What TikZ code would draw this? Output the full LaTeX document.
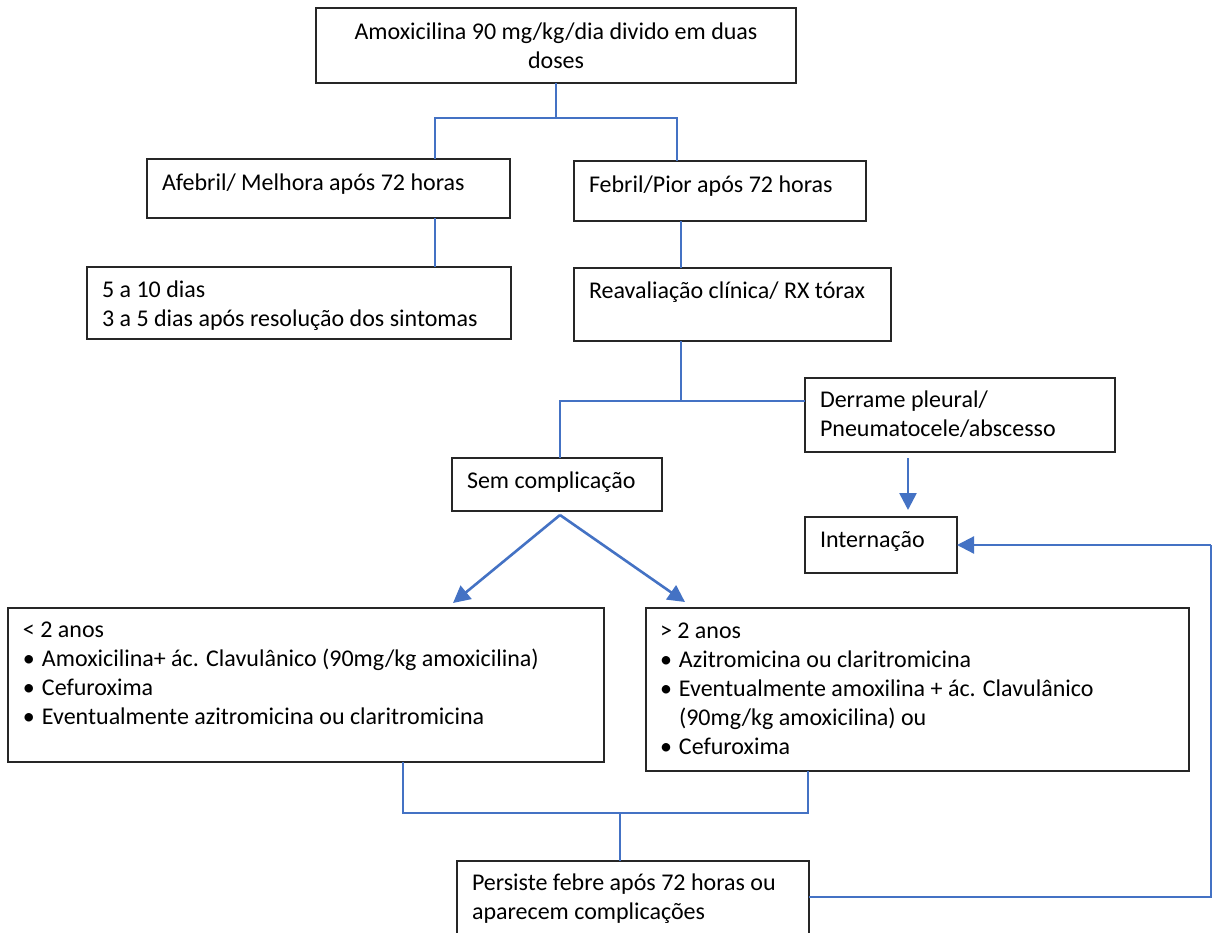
\documentclass[tikz,border=0pt]{standalone}
\usepackage{fontspec}
\setmainfont{Carlito}
\usetikzlibrary{arrows.meta}
\definecolor{cblue}{HTML}{4472C4}
\newcommand\bitem{\makebox[19pt][l]{\textbullet}}
\begin{document}
\begin{tikzpicture}[x=1pt,y=-1pt,
  font=\fontsize{24}{29}\selectfont,
  box/.style={draw=black!85, line width=1.1pt, anchor=north west, inner sep=0pt, outer sep=0pt},
  txt/.style={anchor=base west, inner sep=0pt, outer sep=0pt},
  conn/.style={draw=cblue, line width=1.3pt},
  arr/.style={draw=cblue, line width=2.6pt, -{Triangle[length=17pt,width=17pt]}},
  arrthin/.style={draw=cblue, line width=2.2pt, -{Triangle[length=17pt,width=17pt]}}]
\useasboundingbox[fill=white] (0,0) rectangle (1215,932);

% boxes
\node[box, minimum width=480pt, minimum height=75pt] (top) at (316,8) {};
\node[box, minimum width=363pt, minimum height=59pt] (afe) at (147,159) {};
\node[box, minimum width=292pt, minimum height=60pt] (feb) at (574,161) {};
\node[box, minimum width=424pt, minimum height=72pt] (dias) at (87,267) {};
\node[box, minimum width=317pt, minimum height=73pt] (rea) at (574,268) {};
\node[box, minimum width=310pt, minimum height=74pt] (der) at (805,378) {};
\node[box, minimum width=210pt, minimum height=53pt] (sem) at (452,458) {};
\node[box, minimum width=152pt, minimum height=56pt] (int) at (805,517) {};
\node[box, minimum width=596pt, minimum height=154pt] (lt2) at (8,608) {};
\node[box, minimum width=543pt, minimum height=163pt] (gt2) at (646,608) {};
\node[box, minimum width=352pt, minimum height=80pt] (per) at (457,861) {};

% texts
\node[txt, anchor=base] (topt) at (556,39) {\begin{tabular}[t]{@{}c@{}}Amoxicilina 90 mg/kg/dia divido em duas\\doses\end{tabular}};
\node[txt] (afet) at (162,190) {Afebril/ Melhora após 72 horas};
\node[txt] (febt) at (589,192) {Febril/Pior após 72 horas};
\node[txt] (diast) at (102,297) {\begin{tabular}[t]{@{}l@{}}5 a 10 dias\\3 a 5 dias após resolução dos sintomas\end{tabular}};
\node[txt] (reat) at (589,298) {Reavaliação clínica/ RX tórax};
\node[txt] (dert) at (820,407) {\begin{tabular}[t]{@{}l@{}}Derrame pleural/\\Pneumatocele/abscesso\end{tabular}};
\node[txt] (semt) at (467,488) {Sem complicação};
\node[txt] (intt) at (820,547) {Internação};
\node[txt] (lt2t) at (23,637) {\begin{tabular}[t]{@{}l@{}}< 2 anos\\
  \bitem Amoxicilina+ ác. Clavulânico (90mg/kg amoxicilina)\\
  \bitem Cefuroxima\\
  \bitem Eventualmente azitromicina ou claritromicina\end{tabular}};
\node[txt] (gt2t) at (660,638) {\begin{tabular}[t]{@{}l@{}}> 2 anos\\
  \bitem Azitromicina ou claritromicina\\
  \bitem Eventualmente amoxilina + ác. Clavulânico\\
  \hspace*{19pt}(90mg/kg amoxicilina) ou\\
  \bitem Cefuroxima\end{tabular}};
\node[txt] (pert) at (472,890) {\begin{tabular}[t]{@{}l@{}}Persiste febre após 72 horas ou\\aparecem complicações\end{tabular}};

% junction coordinates
\coordinate (ja) at (435,118);
\coordinate (jb) at (677,118);
\coordinate (jc) at (681,401);
\coordinate (jd) at (560,401);
\coordinate (je) at (908,0);
\coordinate (js) at (560,515);
\coordinate (tl) at (453,603);
\coordinate (tr) at (685,602);
\coordinate (jf) at (1211,0);
\coordinate (jg) at (403,813);
\coordinate (jh) at (808,813);
\coordinate (ji) at (620,813);
\coordinate (jp) at (0,897);

% connectors
\draw[conn] (top.south) -- (top.south |- ja);
\draw[conn] (ja |- afe.north) -- (ja) -- (jb) -- (jb |- feb.north);
\draw[conn] (ja |- afe.south) -- (ja |- dias.north);
\draw[conn] (jc |- feb.south) -- (jc |- rea.north);
\draw[conn] (jc |- rea.south) -- (jc);
\draw[conn] (jd |- sem.north) -- (jd) -- (jc -| der.west);
\draw[arr] ([yshift=-6pt]je |- der.south) -- ([yshift=7pt]je |- int.north);
\draw[arr] (js) -- (tl);
\draw[arr] (js) -- (tr);
\draw[conn] (jg |- lt2.south) -- (jg) -- (jh) -- (jh |- gt2.south);
\draw[conn] (ji) -- (ji |- per.north);
\draw[conn] (per.east |- jp) -| (jf |- int.east);
\draw[arrthin] (jf |- int.east) -- (int.east);
\end{tikzpicture}
\end{document}
